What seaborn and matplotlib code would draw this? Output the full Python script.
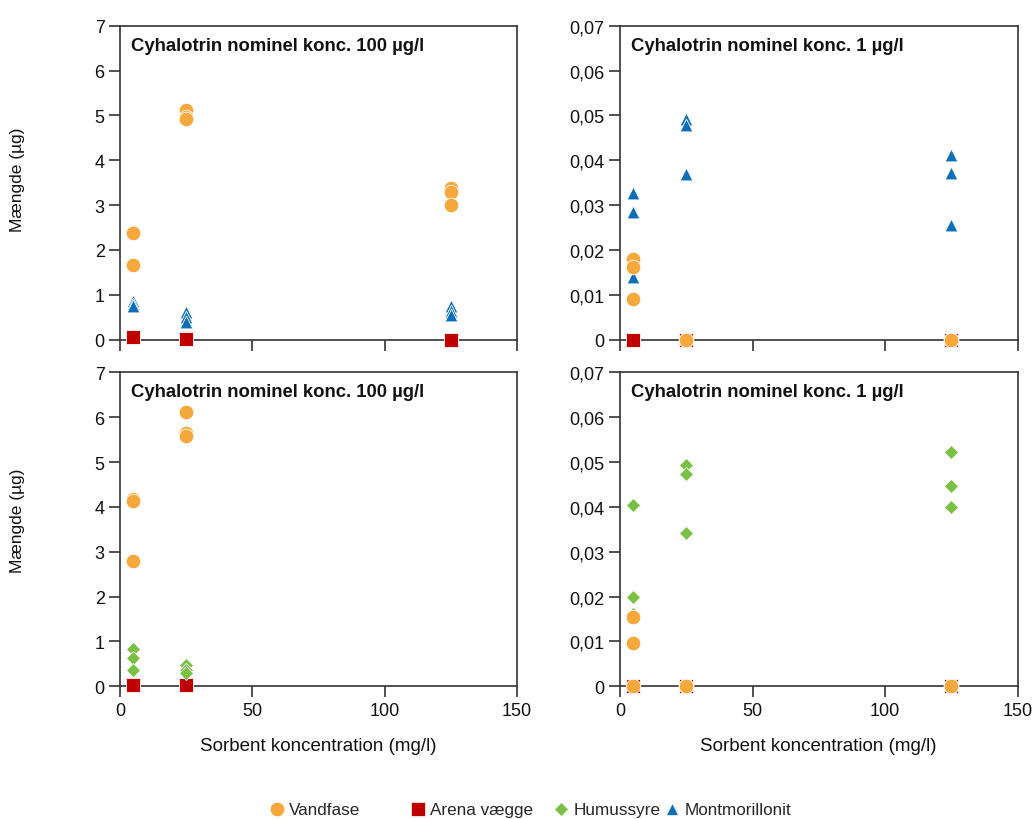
import numpy as np
import pandas as pd
import matplotlib
matplotlib.use("Agg")
import matplotlib.pyplot as plt
import seaborn as sns
from matplotlib.ticker import FuncFormatter
from matplotlib.lines import Line2D

sns.set_theme(style="white")
plt.rcParams['font.family'] = ['Liberation Sans', 'DejaVu Sans']

# ---- data ----
sorbent_x = [5, 5, 5, 25, 25, 25, 125, 125, 125]

# Top-left: 100 µg/l, Montmorillonit
tl_vandfase = [2.40, 2.37, 1.66, 5.12, 4.97, 4.93, 3.38, 3.30, 3.01]
tl_arena = [0.06, 0.05, 0.05, 0.03, 0.02, 0.02, 0.0, 0.0, 0.0]
tl_montmor = [0.87, 0.80, 0.76, 0.61, 0.50, 0.40, 0.76, 0.65, 0.56]

# Top-right: 1 µg/l, Montmorillonit
tr_vandfase = [0.0181, 0.0161, 0.0090, None, 0.0, 0.0, 0.0, 0.0, 0.0]
tr_arena = [0.0, 0.0, 0.0, 0.0, 0.0, 0.0, 0.0, 0.0, 0.0]
tr_montmor = [0.0327, 0.0284, 0.0140, 0.0492, 0.0479, 0.0370, 0.0412, 0.0372, 0.0255]

# Bottom-left: 100 µg/l, Humussyre
bl_x = [5, 5, 5, 25, 25, 25]
bl_vandfase = [4.18, 4.13, 2.79, 6.12, 5.64, 5.58]
bl_arena = [0.02, 0.02, 0.02, 0.02, 0.02, 0.02]
bl_humus = [0.84, 0.64, 0.37, 0.47, 0.37, 0.29]

# Bottom-right: 1 µg/l, Humussyre
br_vandfase = [0.0154, 0.0097, 0.0, 0.0, 0.0, 0.0, 0.0, 0.0, 0.0]
br_arena = [0.0, 0.0, 0.0, 0.0, 0.0, 0.0, 0.0, 0.0, 0.0]
br_humus = [0.0405, 0.0200, 0.0162, 0.0494, 0.0473, 0.0342, 0.0522, 0.0447, 0.0400]

titles = ["Cyhalotrin nominel konc. 100 µg/l", "Cyhalotrin nominel konc. 1 µg/l"]
series_names = ["Vandfase", "Arena vægge", "Humussyre", "Montmorillonit"]
x_ticks = [0, 50, 100, 150]
xlabel = "Sorbent koncentration (mg/l)"
ylabel = "Mængde (µg)"

colors = {"Vandfase": "#F7A83C", "Arena vægge": "#C00000",
          "Humussyre": "#7AC143", "Montmorillonit": "#0E6FB8"}
markers = {"Vandfase": "o", "Arena vægge": "s", "Humussyre": "D", "Montmorillonit": "^"}
sizes = {"Vandfase": 110, "Arena vægge": 95, "Humussyre": 52, "Montmorillonit": 85}
zorders = {"Arena vægge": 3, "Humussyre": 4, "Montmorillonit": 4, "Vandfase": 5}

fig = plt.figure(figsize=(10.33, 8.2), dpi=100)
W, H = 1033, 820
def box(l, r, t, b):
    return [l / W, 1 - b / H, (r - l) / W, (b - t) / H]

axes = {
    "tl": fig.add_axes(box(120, 517, 26.7, 340.7)),
    "tr": fig.add_axes(box(620, 1017.5, 26.7, 340.7)),
    "bl": fig.add_axes(box(120, 517, 373.3, 687.3)),
    "br": fig.add_axes(box(620, 1017.5, 373.3, 687.3)),
}

panels = [
    ("tl", sorbent_x, {"Arena vægge": tl_arena, "Montmorillonit": tl_montmor, "Vandfase": tl_vandfase}, 0),
    ("tr", sorbent_x, {"Arena vægge": tr_arena, "Montmorillonit": tr_montmor, "Vandfase": tr_vandfase}, 1),
    ("bl", bl_x, {"Arena vægge": bl_arena, "Humussyre": bl_humus, "Vandfase": bl_vandfase}, 0),
    ("br", sorbent_x, {"Arena vægge": br_arena, "Humussyre": br_humus, "Vandfase": br_vandfase}, 1),
]

FS = 13
spine_col = "#333333"
for key, xs, sdict, col in panels:
    ax = axes[key]
    for name, vals in sdict.items():
        df = pd.DataFrame({"x": xs, "y": vals}).dropna()
        sns.scatterplot(data=df, x="x", y="y", ax=ax, marker=markers[name],
                        color=colors[name], s=sizes[name], edgecolor="white",
                        linewidth=0.6, zorder=zorders[name], clip_on=False, legend=False)
    ax.set_xlim(0, 150)
    if col == 0:
        ax.set_ylim(0, 7)
        ax.set_yticks(range(0, 8))
        ax.yaxis.set_major_formatter(FuncFormatter(lambda v, p: f"{int(round(v))}"))
    else:
        ax.set_ylim(0, 0.07)
        ax.set_yticks(np.arange(0, 0.0701, 0.01))
        ax.yaxis.set_major_formatter(FuncFormatter(
            lambda v, p: "0" if abs(v) < 1e-9 else f"{v:.2f}".replace(".", ",")))
    ax.set_xticks(x_ticks)
    ax.set_xlabel("")
    ax.set_ylabel("")
    for s in ax.spines.values():
        s.set_visible(True)
        s.set_color(spine_col)
        s.set_linewidth(1.2)
    ax.tick_params(axis="both", direction="out", length=8, width=1.2, color=spine_col,
                   labelsize=FS, labelcolor="#111111", pad=3,
                   left=True, bottom=True)
    ax.text(0.028, 0.965, titles[col], transform=ax.transAxes, ha="left", va="top",
            fontsize=13.3, fontweight="bold", color="#111111")
    if key in ("tl", "tr"):
        ax.tick_params(axis="x", labelbottom=False)
    else:
        ax.set_xlabel(xlabel, fontsize=13.5, color="#111111", labelpad=13)

fig.text(18 / W, 1 - 180 / H, ylabel, rotation=90, ha="center", va="center",
         fontsize=12.5, color="#111111")
fig.text(18 / W, 1 - 521 / H, ylabel, rotation=90, ha="center", va="center",
         fontsize=12.5, color="#111111")

# legend entries placed individually (fixed column positions as in the reference)
leg_x = [268, 409, 552, 663]
for n, ms, lx in zip(series_names, [10.5, 9.5, 7, 9], leg_x):
    h = Line2D([], [], linestyle="", marker=markers[n], color=colors[n],
               markersize=ms, markeredgecolor="white", markeredgewidth=0.5)
    fig.legend([h], [n], loc="center left", bbox_to_anchor=(lx / W, 1 - 811 / H),
               frameon=False, fontsize=12.3, handletextpad=0.25, handlelength=1.0,
               borderpad=0, borderaxespad=0)

fig.savefig("out.png", dpi=100)
